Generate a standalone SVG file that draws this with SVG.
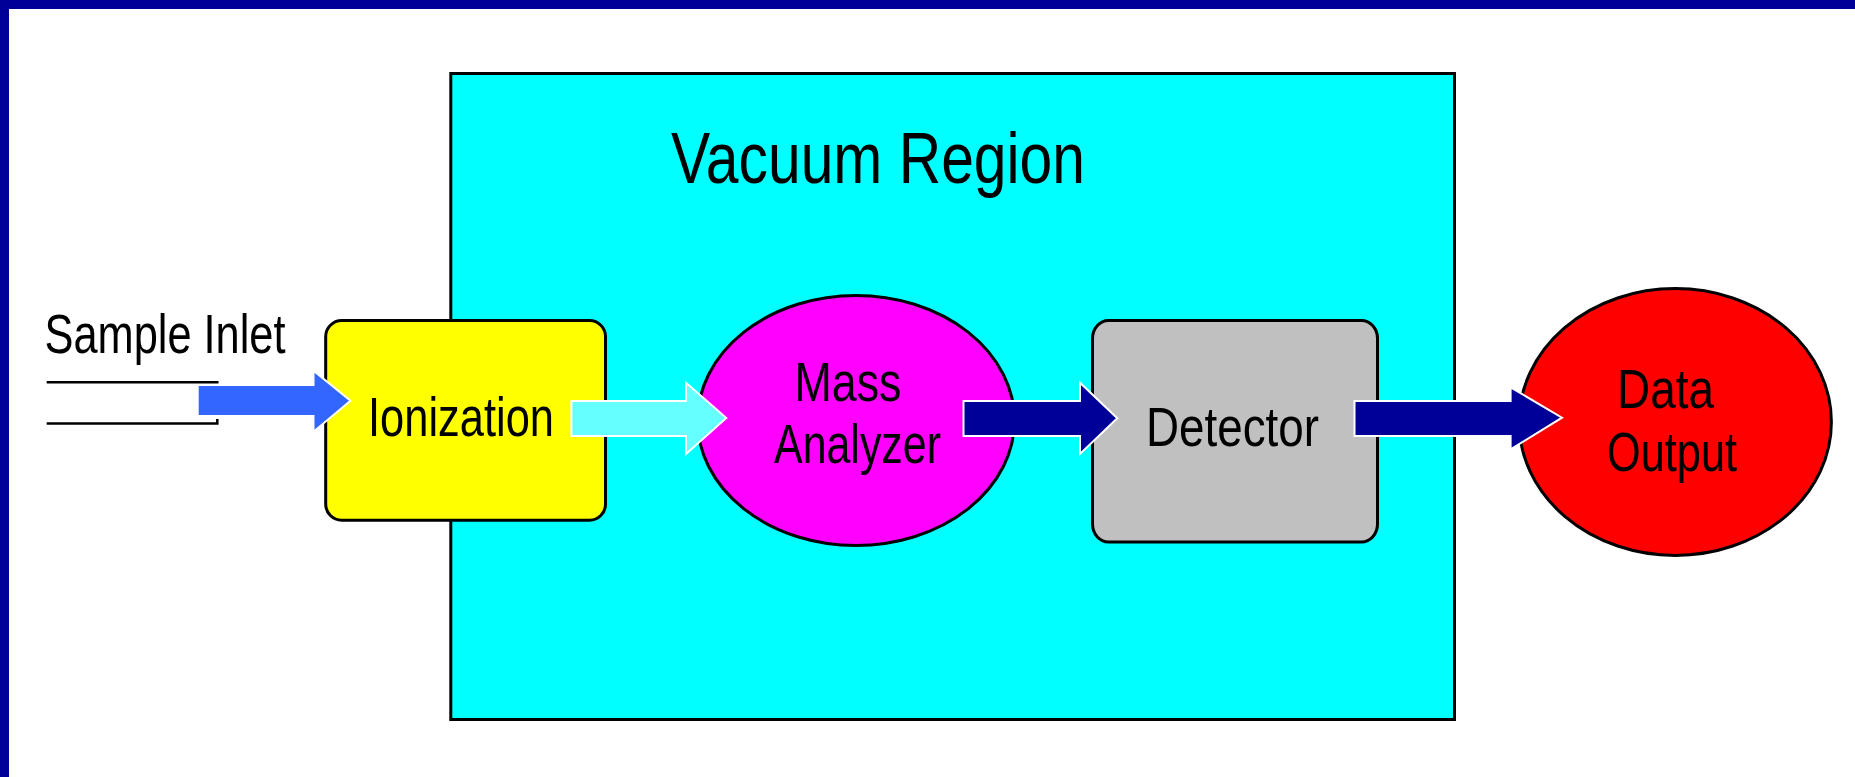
<svg xmlns="http://www.w3.org/2000/svg" width="1855" height="777" viewBox="0 0 1855 777">
  <style>
    .lbl { font-family: "Liberation Sans", Arial, sans-serif; font-size: 56px; fill: #000; }
    .title { font-family: "Liberation Sans", Arial, sans-serif; font-size: 73px; fill: #000; }
    .box { stroke: #000; stroke-width: 3; }
    .arrow { stroke: #fff; stroke-width: 2; stroke-linejoin: miter; }
    .inlet { stroke: #000; stroke-width: 2.5; fill: none; }
  </style>

  <!-- page frame -->
  <rect x="0" y="0" width="1855" height="777" fill="#fff"/>
  <rect x="0" y="0" width="1855" height="9" fill="#000099"/>
  <rect x="0" y="0" width="9" height="777" fill="#000099"/>

  <!-- vacuum region -->
  <g id="vacuum">
    <rect class="box" x="450.8" y="73.5" width="1003.7" height="646" fill="#00FFFF"/>
    <text class="title" x="671" y="183.3" textLength="414" lengthAdjust="spacingAndGlyphs">Vacuum Region</text>
  </g>

  <!-- sample inlet -->
  <g id="inlet">
    <line class="inlet" x1="46.7" y1="382.3" x2="218.5" y2="382.3"/>
    <polyline class="inlet" points="46.7,423.5 217.3,423.5 217.3,419"/>
    <text class="lbl" x="44.5" y="352.7" font-size="57" textLength="241" lengthAdjust="spacingAndGlyphs">Sample Inlet</text>
  </g>

  <g id="ionization">
    <rect class="box" x="325.7" y="320.5" width="279.8" height="199.7" rx="16" ry="16" fill="#FFFF00"/>
    <text class="lbl" x="368" y="435.7" textLength="186" lengthAdjust="spacingAndGlyphs">Ionization</text>
  </g>

  <g id="analyzer">
    <ellipse class="box" cx="856" cy="420.5" rx="158.5" ry="125" fill="#FF00FF" stroke-width="2.7"/>
    <text class="lbl" x="794.5" y="401" textLength="107" lengthAdjust="spacingAndGlyphs">Mass</text>
    <text class="lbl" x="774" y="463.3" textLength="167" lengthAdjust="spacingAndGlyphs">Analyzer</text>
  </g>

  <g id="detector">
    <rect class="box" x="1092.5" y="320.5" width="285" height="221.5" rx="16" ry="18" fill="#C0C0C0"/>
    <text class="lbl" x="1146" y="445.7" font-size="57" textLength="173" lengthAdjust="spacingAndGlyphs">Detector</text>
  </g>

  <g id="output">
    <ellipse class="box" cx="1675.2" cy="422" rx="156.2" ry="133.4" fill="#FF0000" stroke-width="2.7"/>
    <text class="lbl" x="1617" y="408.3" textLength="97" lengthAdjust="spacingAndGlyphs">Data</text>
    <text class="lbl" x="1607" y="470.7" textLength="130" lengthAdjust="spacingAndGlyphs">Output</text>
  </g>

  <!-- block arrows between stages -->
  <g id="connectors">
    <polygon class="arrow" fill="#3366FF" points="197.7,385 313.5,385 313.5,370.7 350.5,400.7 313.5,431.7 313.5,416 197.7,416"/>
    <polygon class="arrow" fill="#66FFFF" points="571.4,401 686,401 686,382.7 726.3,418 686,454 686,436 571.4,436"/>
    <polygon class="arrow" fill="#000099" points="963.5,401 1080,401 1080,382.7 1117.3,418.3 1080,454 1080,436 963.5,436"/>
    <polygon class="arrow" fill="#000099" points="1354.5,401 1510.6,401 1510.6,387.3 1562,417.7 1510.6,449.3 1510.6,436 1354.5,436"/>
  </g>
</svg>
